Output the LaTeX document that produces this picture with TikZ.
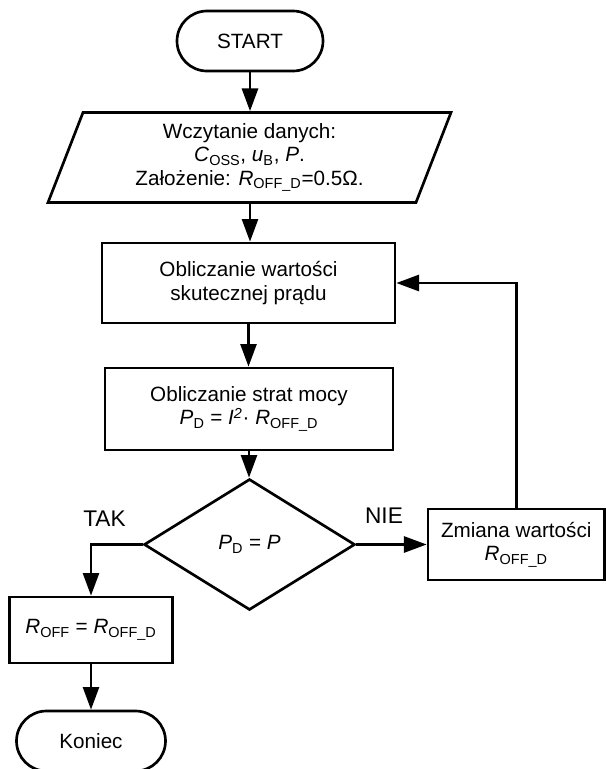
\documentclass[tikz,border=0pt]{standalone}
\usepackage{fontspec}
\setmainfont{Liberation Sans}
\usetikzlibrary{arrows.meta,shapes.geometric,shapes.misc}

\tikzset{
  blok/.style={draw, line width=2pt, align=center, inner sep=0.75pt,
    font=\fontsize{15.5}{17.5}\selectfont},
  terminal/.style={blok, rounded rectangle},
  proces/.style={blok, rectangle},
  wejscie/.style={blok, trapezium, trapezium left angle=63.43,
    trapezium right angle=116.57, trapezium stretches body},
  decyzja/.style={blok, diamond},
  etykieta/.style={inner sep=0.75pt, font=\fontsize{17}{20}\selectfont},
  strzalka/.style={line width=2pt, -{Triangle[length=17pt,width=12pt]}},
}

\begin{document}
\begin{tikzpicture}[x=0.75pt,y=0.75pt,yscale=-1,xscale=1]
\useasboundingbox (0,0) rectangle (606,769);

%Terminal START
\node [terminal, minimum width=111pt, minimum height=45pt] (start) at (250,41) {START};
%Input data
\node [wejscie, minimum width=302.25pt, minimum height=67.5pt] (dane) at (249.5,157.5)
  {Wczytanie danych:\\ \textit{C}\textsubscript{OSS}, \textit{u}\textsubscript{B}, \textit{P}.\\ Założenie: \textit{R}\textsubscript{OFF\_D}=0.5Ω.};
%Process blocks
\node [proces, minimum width=219.75pt, minimum height=60pt] (skut) at (248.5,283)
  {Obliczanie wartości\\ skutecznej prądu};
\node [proces, minimum width=216pt, minimum height=61.5pt] (straty) at (249,409)
  {Obliczanie strat mocy\\ \textit{P}\textsubscript{D} = \textit{I\textsuperscript{2}}· \textit{R}\textsubscript{OFF\_D}};
%Decision
\node [decyzja, minimum width=158.25pt, minimum height=98.25pt] (dec) at (249.5,544.5)
  {\textit{P}\textsubscript{D} = \textit{P}};
\node [proces, minimum width=132.4pt, minimum height=53.25pt] (zmiana) at (516.25,544.5)
  {Zmiana wartości\\ \textit{R}\textsubscript{OFF\_D}};
\node [proces, minimum width=122.25pt, minimum height=49.5pt] (roff) at (91,630)
  {\textit{R}\textsubscript{OFF} = \textit{R}\textsubscript{OFF\_D}};
%Terminal end
\node [terminal, minimum width=113.25pt, minimum height=45pt] (koniec) at (91,741) {Koniec};

% Labels
\node [etykieta] (tak) at (104.5,519) {TAK};
\node [etykieta] (nie) at (384,516) {NIE};

% Connectors
\draw [strzalka] (start.south) -- (start.south |- dane.north);
\draw [strzalka] (dane.south -| start.south) -- (start.south |- skut.north);
\draw [strzalka] (skut.south) -- (skut.south |- straty.north);
\draw [strzalka] (straty.south) -- (straty.south |- dec.north);
\draw [strzalka] (dec.east) -- (zmiana.west);
\draw [strzalka] (zmiana.north) |- (skut.east);
\draw [strzalka] (dec.west) -| (roff.north);
\draw [strzalka] (roff.south) -- (koniec.north);

\end{tikzpicture}
\end{document}
